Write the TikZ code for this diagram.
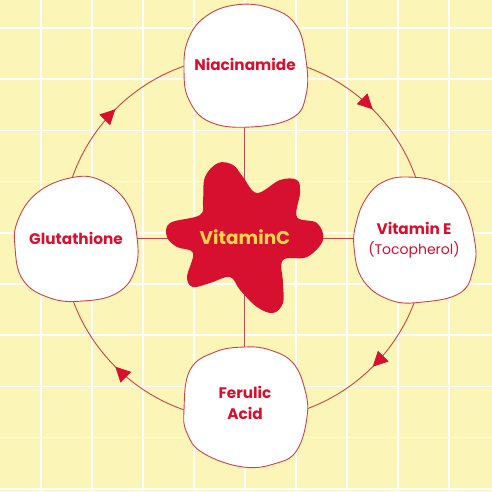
\documentclass[tikz,border=0pt]{standalone}
\usepackage{fontspec}
\setmainfont{Poppins}
\usetikzlibrary{arrows.meta,decorations.markings}
\definecolor{bgyellow}{HTML}{FCF5B8}
\definecolor{crim}{HTML}{D7102F}
\definecolor{linered}{HTML}{C9444A}
\definecolor{vcyellow}{HTML}{F6D54A}
\begin{document}
\begin{tikzpicture}[x=1pt,y=-1pt,
  gridline/.style={white, line width=1.6pt},
  conn/.style={draw=linered, line width=0.9pt},
  blobline/.style={draw=linered, line width=0.9pt, fill=white},
  lbl/.style={text=crim, font=\fontsize{15.3}{20.5}\selectfont\bfseries, align=center, inner sep=0pt},
  sublbl/.style={text=crim, font=\fontsize{14}{19}\selectfont, inner sep=0pt},
  vclbl/.style={text=vcyellow, font=\fontsize{18.5}{20}\selectfont\bfseries, inner sep=0pt},
  midarrow/.style={postaction={decorate, decoration={markings, mark=at position 0.5 with {\arrow[crim]{Triangle[length=15pt,width=15pt]}}}}},
]
\fill[bgyellow] (0,0) rectangle (492,491);
\useasboundingbox (0,0) rectangle (492,491);
\foreach \i in {0,...,8} \draw[gridline] ({41+51*\i},0) -- ({41+51*\i},491);
\foreach \i in {0,...,9} \draw[gridline] (0,{28+51.2*\i}) -- (492,{28+51.2*\i});

\coordinate (ctr) at (244,238);
\coordinate (niaC) at (244,66);
\coordinate (veC) at (415,238);
\coordinate (gluC) at (76,238);
\coordinate (ferC) at (244,408);

% cycle arcs
\draw[conn, midarrow] (ctr) ++(270:182) arc[start angle=270, end angle=360, radius=182];
\draw[conn, midarrow] (ctr) ++(0:182) arc[start angle=0, end angle=90, radius=182];
\draw[conn, midarrow] (ctr) ++(90:182) arc[start angle=90, end angle=180, radius=182];
\draw[conn, midarrow] (ctr) ++(180:182) arc[start angle=180, end angle=270, radius=182];

% cross connectors
\draw[conn] (niaC) -- (ferC);
\draw[conn] (gluC) -- (veC);

% blobs
\draw[blobline] plot[smooth cycle, tension=0.7] coordinates {(184,70) (188,40) (205,17) (235,5) (270,8) (296,25) (306,60) (306,95) (292,118) (250,127) (210,122) (189,100)};
\draw[blobline] plot[smooth cycle, tension=0.7] coordinates {(354,247) (357,220) (367,197) (383,182) (407,177) (440,183) (463,203) (475,243) (473,270) (460,293) (423,302) (390,300) (363,280)};
\draw[blobline] plot[smooth cycle, tension=0.7] coordinates {(15,247) (18,220) (37,193) (70,178) (100,180) (127,203) (137,237) (135,270) (117,293) (83,301) (50,298) (23,280)};
\draw[blobline] plot[smooth cycle, tension=0.7] coordinates {(184,410) (187,433) (203,453) (243,467) (277,463) (297,450) (307,417) (305,390) (293,363) (270,350) (245,347) (215,352) (190,370)};

% VitaminC splash
\fill[crim] plot[smooth cycle, tension=0.6] coordinates {(218,163) (205,177) (203,200) (200,215) (170,223) (167,237) (177,247) (193,253) (187,277) (193,287) (210,283) (230,277) (240,290) (257,307) (273,313) (283,303) (283,283) (283,260) (307,257) (323,240) (317,223) (297,217) (300,193) (297,180) (280,180) (257,193) (243,177) (233,165)};

% labels
\node[lbl] (nia) at (245,64) {Niacinamide};
\node[lbl] (ve) at (414,228) {Vitamin E};
\node[sublbl] (toco) at (414,250) {(Tocopherol)};
\node[lbl] (glu) at (76,238) {Glutathione};
\node[lbl] (fer) at (245,403) {Ferulic\\Acid};
\node[vclbl] (vc) at (245,237) {VitaminC};
\end{tikzpicture}
\end{document}
